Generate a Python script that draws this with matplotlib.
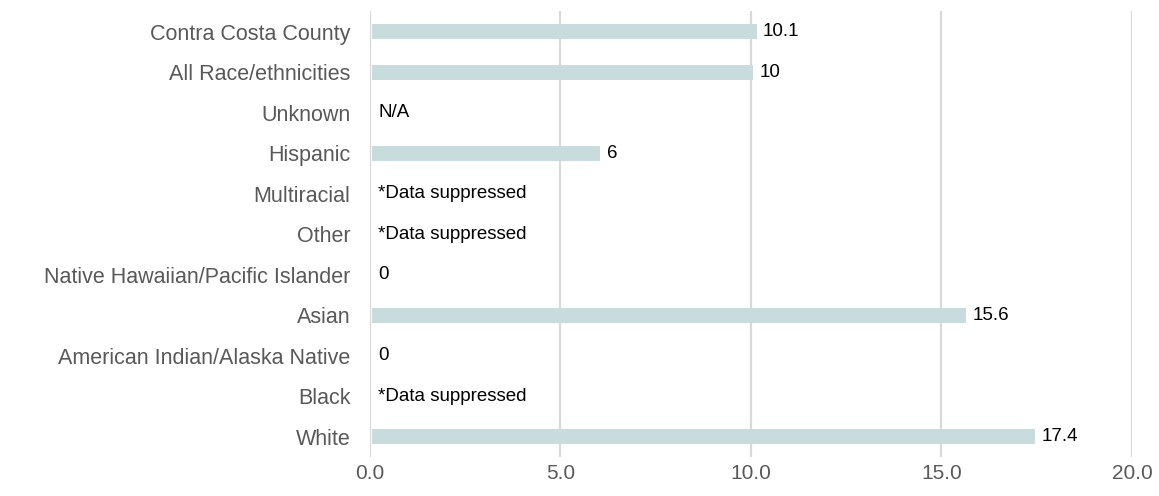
import matplotlib
matplotlib.use("Agg")
import matplotlib.pyplot as plt

categories = ["Contra Costa County", "All Race/ethnicities", "Unknown", "Hispanic",
              "Multiracial", "Other", "Native Hawaiian/Pacific Islander", "Asian",
              "American Indian/Alaska Native", "Black", "White"]
values = [10.1, 10, None, 6, None, None, 0, 15.6, 0, None, 17.4]
value_labels = ["10.1", "10", "N/A", "6", "*Data suppressed", "*Data suppressed",
                "0", "15.6", "0", "*Data suppressed", "17.4"]
x_ticks = [0, 5, 10, 15, 20]
x_tick_labels = ["0.0", "5.0", "10.0", "15.0", "20.0"]

plt.rcParams['font.family'] = ['Liberation Sans', 'DejaVu Sans']

fig = plt.figure(figsize=(11.59, 4.96), dpi=100)
ax = fig.add_axes([0.3192, 0.079, 0.6575, 0.898])

ypos = list(range(len(categories)))
bar_vals = [v if v is not None else 0 for v in values]
ax.barh(ypos, bar_vals, height=0.37, color="#c8dcdd", zorder=3, left=0.05)

for y, v, lab in zip(ypos, values, value_labels):
    xv = v if v is not None else 0
    ax.annotate(lab, xy=(xv, y), xytext=(6, 0), textcoords="offset points",
                ha="left", va="center", fontsize=13.5, color="#000000", zorder=4)

ax.set_xlim(0, 20)
ax.set_ylim(len(categories) - 0.5, -0.5)
ax.set_xticks(x_ticks)
ax.set_xticklabels(x_tick_labels, fontsize=15, color="#595959")
ax.set_yticks(ypos)
ax.set_yticklabels(categories, fontsize=15.5, color="#595959")
ax.tick_params(axis="both", length=0)
ax.tick_params(axis="y", pad=14)
ax.tick_params(axis="x", pad=5)
for s in ax.spines.values():
    s.set_visible(False)
ax.grid(axis="x", color="#d9d9d9", linewidth=1.6, zorder=0)
ax.set_axisbelow(True)

fig.savefig("out.png", dpi=100)
